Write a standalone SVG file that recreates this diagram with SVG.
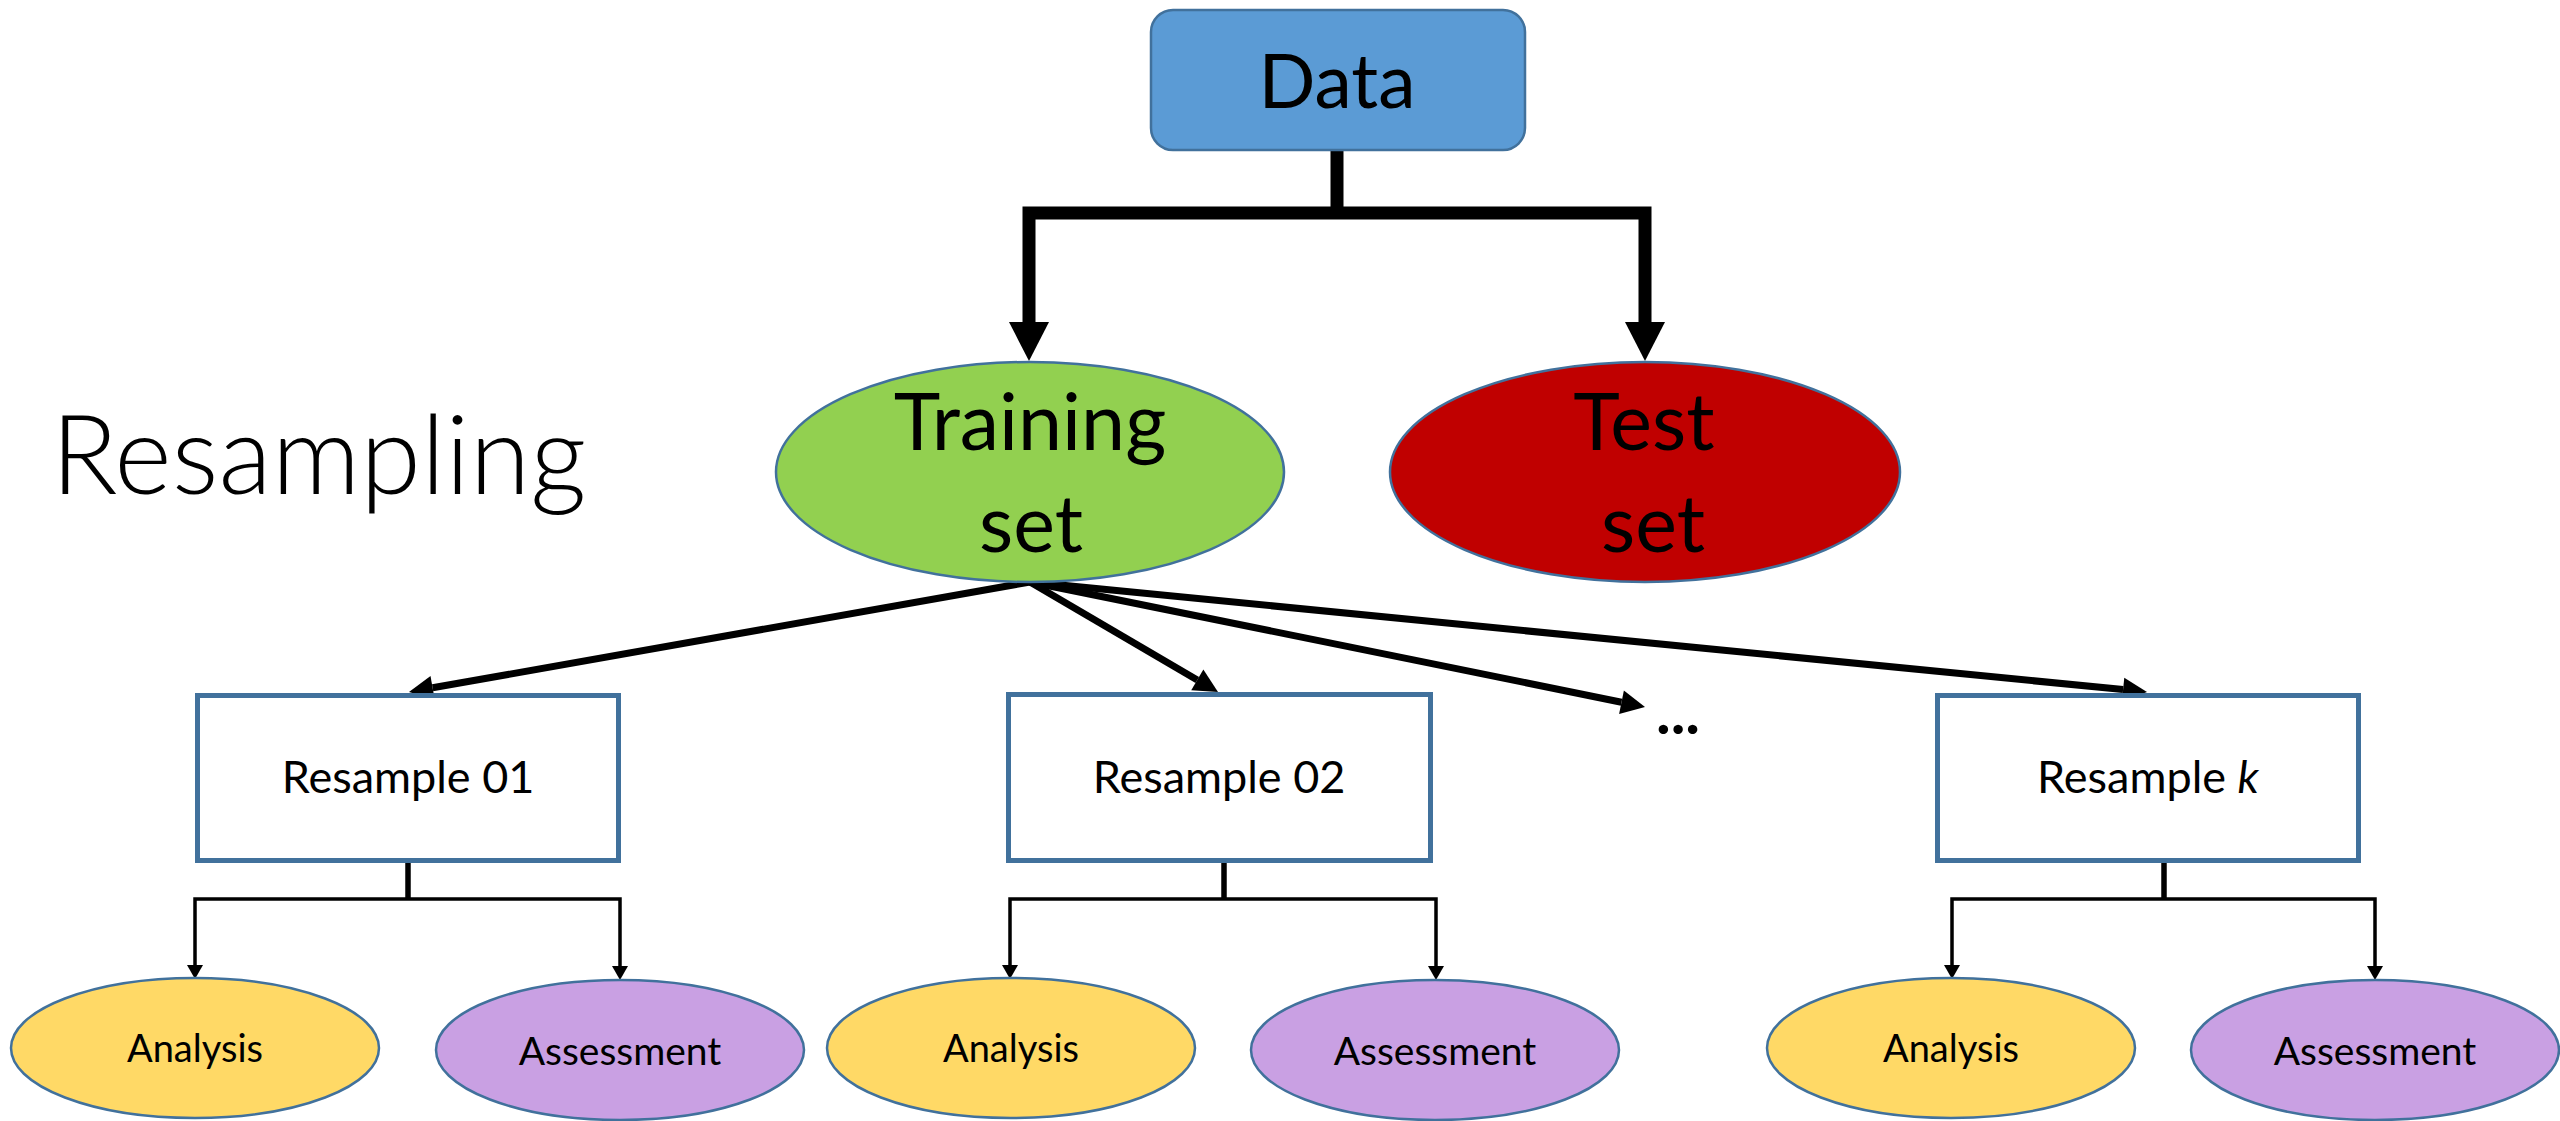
<svg xmlns="http://www.w3.org/2000/svg" width="2560" height="1121" viewBox="0 0 2560 1121">
<style>
text { font-family: Lato, "Open Sans", "Liberation Sans", sans-serif; fill: #000; text-anchor: middle; }
.big { font-size: 79px; }
.box { fill: #fff; stroke: #41719C; stroke-width: 5; }
.ell { stroke: #41719C; stroke-width: 2.5; }
.ana { fill: #FFD966; }
.ass { fill: #C9A0E3; }
.lbl { font-size: 45px; }
.an { font-size: 38px; }
.as { font-size: 39px; }
.thick { fill: none; stroke: #000; stroke-width: 13; stroke-linejoin: miter; }
.mid { fill: none; stroke: #000; stroke-width: 7; }
.thin { fill: none; stroke: #000; stroke-width: 3.5; stroke-linejoin: miter; }
.stem { fill: none; stroke: #000; stroke-width: 5.5; }
</style>
<defs>
<marker id="hBig" markerUnits="userSpaceOnUse" markerWidth="40" markerHeight="40" refX="0" refY="20" orient="auto-start-reverse" overflow="visible">
<path d="M0,0 L39,20 L0,40 z" fill="#000"/>
</marker>
<marker id="hMid" markerUnits="userSpaceOnUse" markerWidth="24" markerHeight="24" refX="0" refY="12" orient="auto" overflow="visible">
<path d="M0,0 L24,12 L0,24 z" fill="#000"/>
</marker>
<marker id="hSm" markerUnits="userSpaceOnUse" markerWidth="14" markerHeight="16" refX="0" refY="8" orient="auto-start-reverse" overflow="visible">
<path d="M0,0 L14,8 L0,16 z" fill="#000"/>
</marker>
</defs>

<text id="title" x="51" y="494" style="font-size:110px;font-weight:300;text-anchor:start">Resampling</text>

<g id="connectors">
<path class="thick" d="M1337,150 V213"/>
<path class="thick" d="M1029,322 V213 H1645 V322" marker-start="url(#hBig)" marker-end="url(#hBig)"/>
<path class="mid" d="M1030,582 L432.6,687.8" marker-end="url(#hMid)"/>
<path class="mid" d="M1030,582 L1197.3,679.9" marker-end="url(#hMid)"/>
<path class="mid" d="M1030,582 L1621.5,702.2" marker-end="url(#hMid)"/>
<path class="mid" d="M1030,582 L2123.1,689.6" marker-end="url(#hMid)"/>
<path class="stem" d="M408,863 V899"/>
<path class="thin" d="M195,965 V899 H620 V966" marker-start="url(#hSm)" marker-end="url(#hSm)"/>
<path class="stem" d="M1224,863 V899"/>
<path class="thin" d="M1010,965 V899 H1436 V966" marker-start="url(#hSm)" marker-end="url(#hSm)"/>
<path class="stem" d="M2164,863 V899"/>
<path class="thin" d="M1952,965 V899 H2375 V966" marker-start="url(#hSm)" marker-end="url(#hSm)"/>
</g>

<g id="data">
<rect x="1151" y="10" width="374" height="140" rx="22" fill="#5B9BD5" stroke="#41719C" stroke-width="2.5"/>
<text x="1337" y="108" style="font-size:75px">Data</text>
</g>

<g id="training">
<ellipse class="ell" cx="1030" cy="472" rx="254" ry="110" fill="#92D050"/>
<text class="big" x="1030" y="450">Training</text>
<text class="big" x="1031" y="552">set</text>
</g>

<g id="test">
<ellipse class="ell" cx="1645" cy="472" rx="255" ry="110" fill="#C00000"/>
<text class="big" x="1644" y="450">Test</text>
<text class="big" x="1653" y="552">set</text>
</g>

<g id="resample01">
<rect class="box" x="197.5" y="695.5" width="421" height="165"/>
<text class="lbl" x="408" y="793">Resample 01</text>
</g>
<g id="resample02">
<rect class="box" x="1008.5" y="694.5" width="422" height="166"/>
<text class="lbl" x="1219" y="793">Resample 02</text>
</g>
<g id="dots">
<text x="1678" y="734" style="font-size:62px;font-weight:bold">...</text>
</g>
<g id="resamplek">
<rect class="box" x="1937.5" y="695.5" width="421" height="165"/>
<text class="lbl" x="2148" y="793">Resample <tspan font-style="italic">k</tspan></text>
</g>

<g id="analysis1"><ellipse class="ell ana" cx="195" cy="1048" rx="184" ry="70"/><text class="an" x="195" y="1062">Analysis</text></g>
<g id="assessment1"><ellipse class="ell ass" cx="620" cy="1050" rx="184" ry="70"/><text class="as" x="620" y="1065">Assessment</text></g>
<g id="analysis2"><ellipse class="ell ana" cx="1011" cy="1048" rx="184" ry="70"/><text class="an" x="1011" y="1062">Analysis</text></g>
<g id="assessment2"><ellipse class="ell ass" cx="1435" cy="1050" rx="184" ry="70"/><text class="as" x="1435" y="1065">Assessment</text></g>
<g id="analysis3"><ellipse class="ell ana" cx="1951" cy="1048" rx="184" ry="70"/><text class="an" x="1951" y="1062">Analysis</text></g>
<g id="assessment3"><ellipse class="ell ass" cx="2375" cy="1050" rx="184" ry="70"/><text class="as" x="2375" y="1065">Assessment</text></g>
</svg>
